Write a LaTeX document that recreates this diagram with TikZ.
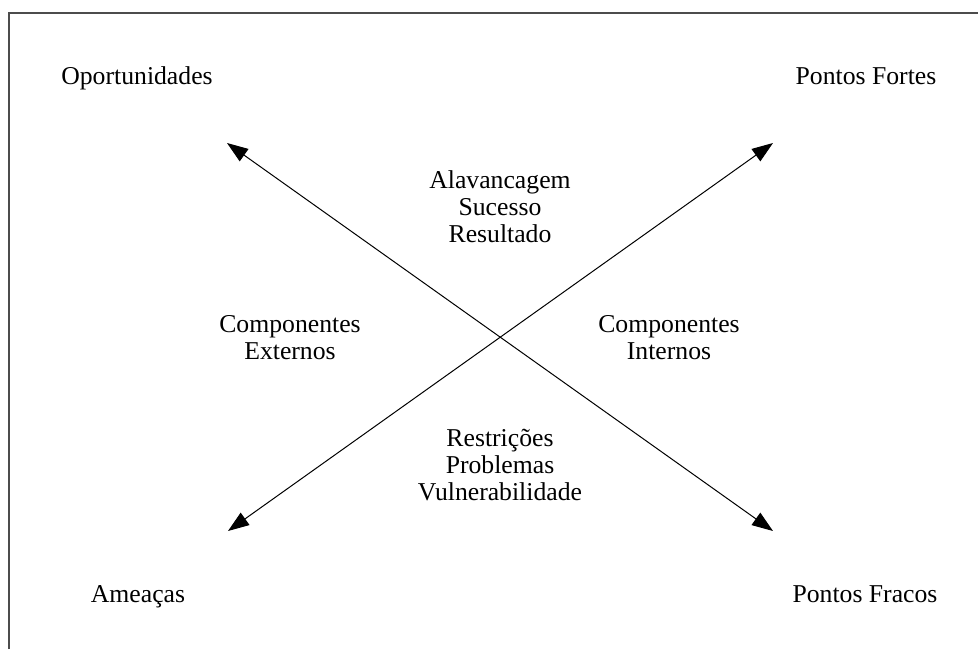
\documentclass[tikz,border=0pt]{standalone}
\usepackage{fontspec}
\setmainfont{Liberation Serif}
\usetikzlibrary{arrows.meta}
\begin{document}
\begin{tikzpicture}[x=1pt,y=-1pt,
  lbl/.style={font=\fontsize{25.7}{27}\selectfont, align=center, inner sep=0pt},
  corner/.style={lbl, anchor=base},
  axis/.style={line width=1pt, {Triangle[length=21pt,width=15pt]}-{Triangle[length=21pt,width=15pt]}},
  frame/.style={line width=1.4pt, draw=black!70}]
\useasboundingbox (0,0) rectangle (978,649);
\coordinate (f0) at (9,649);
\coordinate (f1) at (9,13);
\coordinate (f2) at (978,13);
\draw[frame] (f0) -- (f1) -- (f2);
\coordinate (tl) at (227,143);
\coordinate (tr) at (773,143);
\coordinate (bl) at (228,531);
\coordinate (br) at (773,531);
\draw[axis] (tl) -- (br);
\draw[axis] (bl) -- (tr);
\node[corner] (op) at (137,84.5) {Oportunidades};
\node[corner] (pf) at (866,84.5) {Pontos Fortes};
\node[corner] (am) at (138,602.5) {Ameaças};
\node[corner] (pfr) at (865,602.5) {Pontos Fracos};
\node[lbl] (top) at (500,207) {Alavancagem\\Sucesso\\Resultado};
\node[lbl] (ext) at (290,338) {Componentes\\Externos};
\node[lbl] (int) at (669,338) {Componentes\\Internos};
\node[lbl] (bot) at (500,465) {Restrições\\Problemas\\Vulnerabilidade};
\end{tikzpicture}
\end{document}
